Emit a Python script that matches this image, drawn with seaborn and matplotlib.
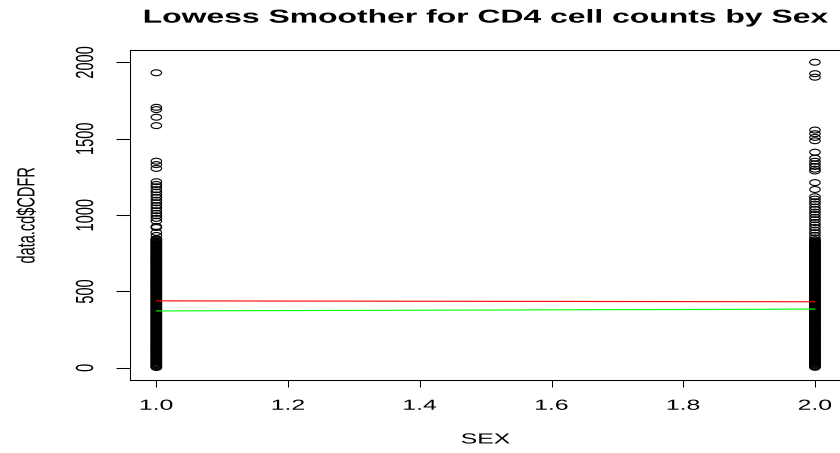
import matplotlib
matplotlib.use("Agg")
import matplotlib.pyplot as plt
import numpy as np
import pandas as pd
import seaborn as sns
from matplotlib import patheffects
from matplotlib.path import Path
from matplotlib.transforms import Affine2D

# ---------------------------------------------------------------- data
# CD4 counts (cells/mm^3) for SEX == 1
cd4_sex1 = [
    1931, 1705, 1690, 1640, 1585, 1352, 1330, 1305,
    1218, 1200, 1185, 1166, 1150, 1131, 1115, 1097, 1080, 1062, 1046, 1028,
    1011, 995, 978, 960, 925, 918, 886, 866,
    845, 841, 836, 830, 826, 821, 815, 811, 806, 800, 795, 791, 786, 780,
    776, 771, 765, 760, 756, 750, 746, 741, 735, 730, 726, 720, 715, 711,
    706, 700, 696, 690, 686, 681, 675, 671, 666, 660, 655, 651, 645, 640,
    636, 630, 626, 620, 615, 611, 605, 600, 596, 590, 586, 580, 575, 571,
    565, 561, 556, 550, 545, 541, 535, 530, 526, 520, 516, 510, 505, 501,
    495, 490, 486, 480, 475, 471, 465, 461, 455, 450, 446, 440, 436, 430,
    425, 421, 415, 410, 406, 400, 396, 390, 385, 381, 375, 370, 366, 360,
    356, 350, 345, 341, 335, 330, 326, 320, 316, 310, 305, 301, 295, 290,
    286, 280, 276, 270, 265, 261, 255, 250, 246, 240, 236, 230, 225, 221,
    215, 210, 206, 200, 196, 190, 185, 181, 175, 170, 166, 160, 156, 150,
    145, 141, 135, 130, 126, 120, 116, 110, 105, 101, 95, 90, 86, 80, 76,
    70, 65, 61, 55, 50, 46, 40, 36, 30, 25, 21, 15, 10, 6, 2,
]
# CD4 counts (cells/mm^3) for SEX == 2
cd4_sex2 = [
    2000, 1925, 1902, 1556, 1532, 1508, 1486, 1411, 1372, 1352, 1334, 1318,
    1300, 1288, 1212, 1167, 1120, 1104, 1087, 1071, 1052, 1036, 1019, 1003,
    985, 969, 951, 935, 918, 901, 884, 867, 850, 838,
    830, 824, 820, 815, 809, 805, 799, 794, 790, 784, 779, 775, 769, 764,
    760, 754, 749, 745, 739, 734, 730, 724, 719, 714, 709, 704, 699, 694,
    689, 684, 679, 674, 669, 664, 659, 654, 649, 644, 639, 634, 629, 624,
    619, 614, 609, 604, 598, 593, 588, 583, 578, 573, 568, 563, 558, 553,
    548, 543, 538, 533, 528, 523, 518, 513, 508, 503, 497, 492, 487, 482,
    477, 472, 467, 462, 457, 452, 447, 442, 437, 432, 427, 422, 417, 412,
    407, 402, 397, 392, 387, 382, 377, 372, 367, 362, 357, 352, 347, 342,
    337, 332, 327, 322, 317, 312, 307, 302, 297, 292, 287, 282, 277, 272,
    267, 262, 257, 252, 247, 242, 237, 232, 227, 222, 217, 212, 207, 202,
    197, 192, 187, 182, 177, 172, 167, 162, 157, 152, 147, 142, 137, 132,
    127, 122, 117, 112, 107, 102, 97, 92, 87, 82, 77, 72, 67, 62, 57, 52,
    47, 42, 37, 32, 27, 22, 17, 12, 8, 3,
]

# smoothed fits evaluated at the two SEX codes
fit_sex = [1.0, 2.0]
fit_red = [438, 432]
fit_green = [372, 384]

x_tick_values = [1.0, 1.2, 1.4, 1.6, 1.8, 2.0]
x_tick_labels = ["1.0", "1.2", "1.4", "1.6", "1.8", "2.0"]
y_tick_values = [0, 500, 1000, 1500, 2000]
y_tick_labels = ["0", "500", "1000", "1500", "2000"]

cd4 = pd.DataFrame({
    "SEX": [1.0] * len(cd4_sex1) + [2.0] * len(cd4_sex2),
    "CDFR": cd4_sex1 + cd4_sex2,
})


class StretchX(patheffects.AbstractPathEffect):
    """Widen text outlines horizontally about their own centre."""

    def __init__(self, factor):
        super().__init__()
        self._factor = factor

    def draw_path(self, renderer, gc, tpath, affine, rgbFace=None):
        ext = tpath.get_extents(affine)
        cx = 0.5 * (ext.x0 + ext.x1)
        widen = Affine2D().translate(-cx, 0).scale(self._factor, 1).translate(cx, 0)
        renderer.draw_path(gc, tpath, affine + widen, rgbFace)


# ---------------------------------------------------------------- style
sns.set_theme(style="white")
plt.rcParams["font.family"] = ["Liberation Sans", "DejaVu Sans"]
plt.rcParams["axes.edgecolor"] = "black"
plt.rcParams["axes.linewidth"] = 0.75

W, H = 840, 453
fig = plt.figure(figsize=(W / 100, H / 100), dpi=100, facecolor="white")
ax = fig.add_axes([130 / W, 73 / H, 711.3 / W, 330 / H])
ax.set_facecolor("white")

# open elliptical point symbol
ellipse = Affine2D().scale(1.0, 0.56).transform_path(Path.unit_circle())

sns.scatterplot(
    data=cd4, x="SEX", y="CDFR", ax=ax,
    marker=ellipse, s=57, color="black",
    facecolor="none", edgecolor="black", linewidth=0.8,
    legend=False, zorder=2,
)
sns.lineplot(x=fit_sex, y=fit_red, ax=ax, color="#ff0000", linewidth=0.8,
             estimator=None, zorder=3)
sns.lineplot(x=fit_sex, y=fit_green, ax=ax, color="#00ff00", linewidth=0.8,
             estimator=None, zorder=3)

ax.set_xlim(0.96, 2.04)
ax.set_ylim(-80, 2080)
ax.grid(False)
for sp in ax.spines.values():
    sp.set_visible(True)
    sp.set_color("black")
    sp.set_linewidth(0.75)

ax.set_xticks(x_tick_values, labels=x_tick_labels)
ax.set_yticks(y_tick_values, labels=y_tick_labels, rotation=90,
              va="center", ha="center")
ax.tick_params(axis="x", direction="out", length=5, width=0.75, pad=8.5,
               labelsize=10.5, color="black", labelcolor="black", bottom=True)
ax.tick_params(axis="y", direction="out", length=10, width=0.75, pad=22,
               labelsize=10.5, color="black", labelcolor="black", left=True)

ax.set_title("Lowess Smoother for CD4 cell counts by Sex", fontsize=13.5,
             fontweight="bold", color="black", pad=19.7)
ax.set_xlabel("SEX", fontsize=10.5, color="black", va="top")
ax.xaxis.set_label_coords(0.5, -0.159)
ax.set_ylabel("data.cd$CDFR", fontsize=10.5, color="black", va="center")
ax.yaxis.set_label_coords((27 - 130) / 711.3, 0.5)

widen = [StretchX(1.7)]
for t in (ax.get_xticklabels() + ax.get_yticklabels()
          + [ax.title, ax.xaxis.label, ax.yaxis.label]):
    t.set_path_effects(widen)

fig.savefig("out.png", dpi=100, facecolor="white")
